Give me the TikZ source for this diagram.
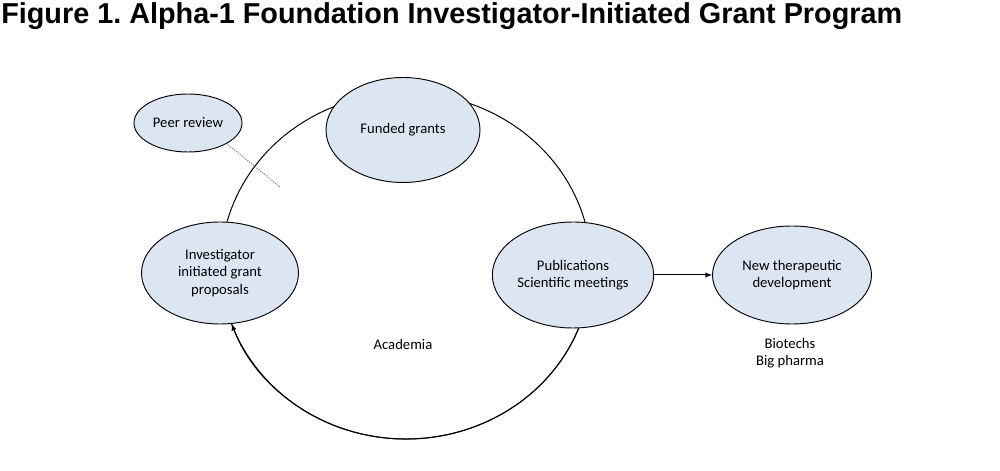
\documentclass[tikz,border=0pt]{standalone}
\usepackage{fontspec}
\setmainfont{Carlito}
\newfontfamily\headfont{Liberation Sans}
\usetikzlibrary{shapes.geometric,arrows}
\definecolor{bubblefill}{RGB}{220,230,242}
\frenchspacing
\begin{document}
\begin{tikzpicture}[x=0.75pt,y=0.75pt,
    bubble/.style={ellipse,draw,line width=0.7pt,fill=bubblefill,align=center,inner sep=1pt},
    every node/.style={font=\fontsize{11}{13.2}\selectfont}]

          \useasboundingbox (0,0) rectangle (1000,471);

          \node[anchor=base west,inner sep=0pt,font=\headfont\bfseries\fontsize{21.6}{26}\selectfont] (title) at (1,447)
              {Figure 1. Alpha-1 Foundation Investigator-Initiated Grant Program};

          % the academia ring, behind the bubbles
          \coordinate (ringc) at (406,205);
          \draw[line width=0.75pt] (ringc) ellipse [x radius=185, y radius=173];

          \node[bubble,minimum width=81pt,minimum height=43.5pt] (peer) at (188,348) {Peer review};
          \node[bubble,minimum width=115.5pt,minimum height=78.75pt] (funded) at (403,341) {Funded grants};
          \node[bubble,minimum width=117.75pt,minimum height=76.5pt] (inv) at (220,198)
              {Investigator\\initiated grant\\proposals};
          \node[bubble,minimum width=119.25pt,minimum height=79.5pt] (pub) at (573,196)
              {Publications\\Scientific meetings};
          \node[bubble,minimum width=119.25pt,minimum height=73.5pt] (newdev) at (792,196)
              {New therapeutic\\development};

          \node (academia) at (403,127) {Academia};
          \node[align=center] (pharma) at (790,118) {Biotechs\\Big pharma};

          \coordinate (peerend) at (280,284);
          \draw[densely dotted,gray,line width=0.8pt] (peer.-28) -- (peerend);

          \draw[->,>=latex,line width=0.75pt] (pub) -- (newdev);
          \draw[->,>=latex,line width=0.75pt] (ringc) ++(-21:185 and 173)
              arc [start angle=-21, end angle=-160.5, x radius=185, y radius=173];
      \end{tikzpicture}
\end{document}
